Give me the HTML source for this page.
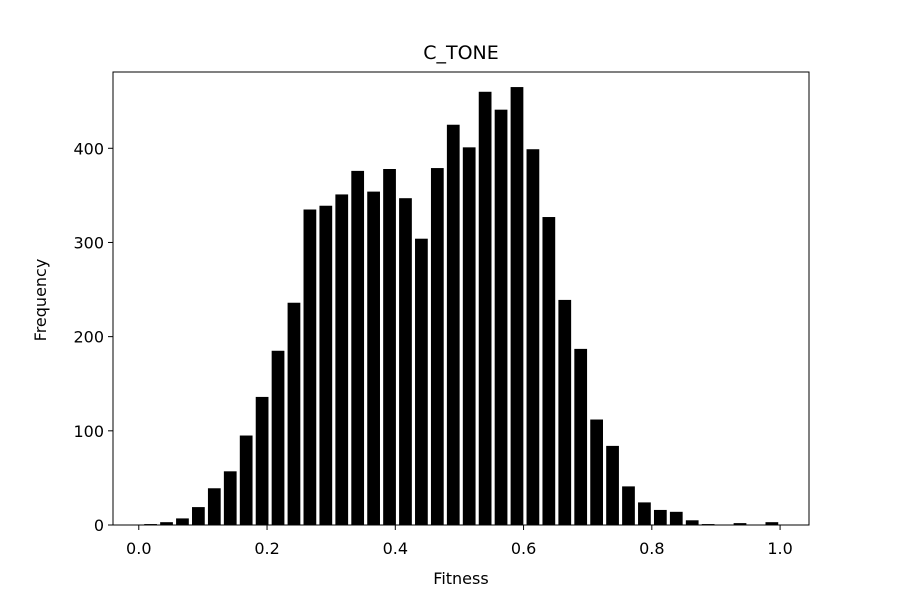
<!DOCTYPE html>
<html><head><meta charset="utf-8"><style>
body{margin:0;background:#fff;}
svg text{font-family:"DejaVu Sans","Liberation Sans",sans-serif;fill:#000;}
</style></head><body>
<svg id="chart" width="900" height="600" xmlns="http://www.w3.org/2000/svg">
<rect width="900" height="600" fill="#fff"/>
<text x="461" y="59" font-size="19" text-anchor="middle">C_TONE</text>
<g id="bars"></g>
<g id="xticks"></g>
<g id="yticks"></g>
<rect x="113" y="72" width="696" height="453" fill="none" stroke="#000" stroke-width="1"/>
<text x="461" y="584" font-size="16" text-anchor="middle">Fitness</text>
<text transform="translate(46,300) rotate(-90)" font-size="16" text-anchor="middle">Frequency</text>
</svg>
<script>
const frequencies = [1,3,7,19,39,57,95,136,185,236,335,339,351,376,354,378,347,304,379,425,401,460,441,465,399,327,239,187,112,84,41,24,16,14,5,1,0,2,0,3];
const binStart = 0.006;
const binWidth = 0.02484;
const xTickValues = [0.0,0.2,0.4,0.6,0.8,1.0];
const xTickLabels = ["0.0","0.2","0.4","0.6","0.8","1.0"];
const yTickValues = [0,100,200,300,400];
const yTickLabels = ["0","100","200","300","400"];

const NS="http://www.w3.org/2000/svg";
const L=113,R=809,T=72,B=525;
const xMin=-0.0402,xMax=1.0451,yMin=0,yMax=481;
const xs=v=>L+(v-xMin)/(xMax-xMin)*(R-L);
const ys=v=>B-(v-yMin)/(yMax-yMin)*(B-T);
const mk=(t,a)=>{const e=document.createElementNS(NS,t);for(const k in a)e.setAttribute(k,a[k]);return e;};
const gb=document.getElementById('bars');
frequencies.forEach((f,i)=>{
  const x0=binStart+i*binWidth+binWidth*0.1, x1=x0+binWidth*0.8;
  const r=mk('rect',{x:xs(x0),y:ys(f),width:xs(x1)-xs(x0),height:ys(0)-ys(f),fill:'#000'});
  
  
  gb.appendChild(r);
});
const gx=document.getElementById('xticks');
xTickValues.forEach((v,i)=>{
  const x=xs(v);
  const l=mk('line',{x1:x,x2:x,y1:B,y2:B+5,stroke:'#000','stroke-width':1});
  
  
  gx.appendChild(l);
  const t=mk('text',{x:x,y:B+29,'font-size':16,'text-anchor':'middle'});
  t.textContent=xTickLabels[i];
  
  
  gx.appendChild(t);
});
const gy=document.getElementById('yticks');
yTickValues.forEach((v,i)=>{
  const y=ys(v);
  const l=mk('line',{x1:L-5,x2:L,y1:y,y2:y,stroke:'#000','stroke-width':1});
  
  
  gy.appendChild(l);
  const t=mk('text',{x:L-9,y:y+6,'font-size':16,'text-anchor':'end'});
  t.textContent=yTickLabels[i];
  
  
  gy.appendChild(t);
});
</script>
</body></html>
